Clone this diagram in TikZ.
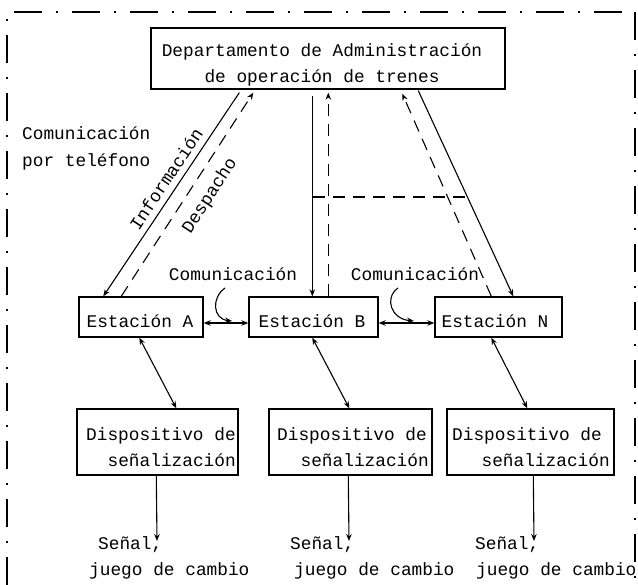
\documentclass[tikz,border=0pt]{standalone}
\usepackage{fontspec}
\setmainfont{Liberation Mono}
\usetikzlibrary{arrows.meta,calc}
\begin{document}
\begin{tikzpicture}[x=1pt,y=-1pt,
  boxst/.style={draw,line width=1.4pt,inner sep=0pt},
  txt/.style={inner sep=0pt,font=\fontsize{17.8}{20}\selectfont},
  arr/.style={line width=1.1pt,-{Stealth[length=7pt,width=5.5pt]}},
  darr/.style={line width=1.1pt,{Stealth[length=7pt,width=5.5pt]}-{Stealth[length=7pt,width=5.5pt]}},
  dsh/.style={dash pattern=on 12pt off 8pt},
  frame/.style={line width=1.4pt,dash pattern=on 28pt off 14pt on 2pt off 14pt}]
\useasboundingbox (0,0) rectangle (638,585);
% frame
\draw[frame] (7,585) -- (7,12) -- (635,12);
\draw[frame,line width=2.6pt] (635,12) -- (635,585);
% boxes
\node[boxst,minimum width=354pt,minimum height=61pt] (top) at (328,58.5) {};
\node[boxst,minimum width=124pt,minimum height=40pt] (A) at (141,317) {};
\node[boxst,minimum width=129pt,minimum height=40pt] (B) at (313.5,317) {};
\node[boxst,minimum width=127pt,minimum height=40pt] (N) at (498.5,317) {};
\node[boxst,minimum width=161pt,minimum height=66pt] (DA) at (157.5,442) {};
\node[boxst,minimum width=163pt,minimum height=66pt] (DB) at (350.5,442) {};
\node[boxst,minimum width=167pt,minimum height=66pt] (DN) at (530.5,442) {};
% texts
\node[txt,anchor=base] (t1) at (322,57) {Departamento de Administración};
\node[txt,anchor=base] (t2) at (322,83) {de operación de trenes};
\node[txt,anchor=base west] (c1) at (22,140) {Comunicación};
\node[txt,anchor=base west] (c2) at (22,167) {por teléfono};
\node[txt,anchor=base] (ta) at (140,328) {Estación A};
\node[txt,anchor=base] (tb) at (312,328) {Estación B};
\node[txt,anchor=base] (tn) at (495,328) {Estación N};
\node[txt,anchor=base] (com1) at (233,281) {Comunicación};
\node[txt,anchor=base] (com2) at (415,281) {Comunicación};
\node[txt,anchor=base west] (da1) at (86,441) {Dispositivo de};
\node[txt,anchor=base east] (da2) at (236,467) {señalización};
\node[txt,anchor=base west] (db1) at (277,441) {Dispositivo de};
\node[txt,anchor=base east] (db2) at (429,467) {señalización};
\node[txt,anchor=base west] (dn1) at (452,441) {Dispositivo de};
\node[txt,anchor=base east] (dn2) at (610,467) {señalización};
\node[txt,anchor=base west] (sa) at (98,550) {Señal,};
\node[txt,anchor=base west] (sb) at (290,550) {Señal,};
\node[txt,anchor=base west] (sn) at (475,550) {Señal,};
\node[txt,anchor=base west] (ja) at (89,576) {juego de cambio};
\node[txt,anchor=base west] (jb) at (294,576) {juego de cambio};
\node[txt,anchor=base west] (jn) at (476,576) {juego de cambio};
\node[txt,rotate=56.4] (info) at (166,179) {Información};
\node[txt,rotate=57] (desp) at (210,196) {Despacho};
% top connectors
\draw[arr] ([xshift=89pt,yshift=-3pt]top.south west) -- ([xshift=25pt]A.north west);
\draw[arr,dsh] ([xshift=43pt]A.north west) -- ([xshift=103pt,yshift=-3pt]top.south west);
\draw[arr] ([xshift=162pt,yshift=-6pt]top.south west) -- ([xshift=64pt]B.north west);
\draw[arr,dsh] ([xshift=80pt]B.north west) -- ([xshift=178pt,yshift=-3pt]top.south west);
\draw[arr] ([xshift=268pt,yshift=-1pt]top.south west) -- ([xshift=79pt]N.north west);
\draw[arr,dsh] ([xshift=57pt]N.north west) -- ([xshift=252pt,yshift=-4pt]top.south west);
\coordinate (hd1) at (313,197);
\coordinate (hd2) at (468,197);
\draw[line width=1.1pt,dsh] (hd1) -- (hd2);
% station links
\draw[darr] ([yshift=-6pt]A.east) -- ([yshift=-6pt]B.west);
\draw[darr] ([yshift=-6pt]B.east) -- ([yshift=-6pt]N.west);
\coordinate (cs1) at (225,288);
\coordinate (ce1) at (232,321);
\coordinate (cs2) at (398,288);
\coordinate (ce2) at (414,321);
\draw[arr] (cs1) .. controls (211,298) and (213,319) .. (ce1);
\draw[arr] (cs2) .. controls (384,298) and (391,319) .. (ce2);
\draw[darr] ([xshift=61pt]A.south west) -- ([xshift=100pt]DA.north west);
\draw[darr] ([xshift=64pt]B.south west) -- ([xshift=81pt]DB.north west);
\draw[darr] ([xshift=57pt]N.south west) -- ([xshift=81pt]DN.north west);
% outputs
\coordinate (oa) at (157,541);
\coordinate (ob) at (349,541);
\coordinate (on) at (534,541);
\draw[arr] ([xshift=80pt]DA.south west) -- (oa);
\draw[arr] ([xshift=80pt]DB.south west) -- (ob);
\draw[arr] ([xshift=87pt]DN.south west) -- (on);
\end{tikzpicture}
\end{document}
